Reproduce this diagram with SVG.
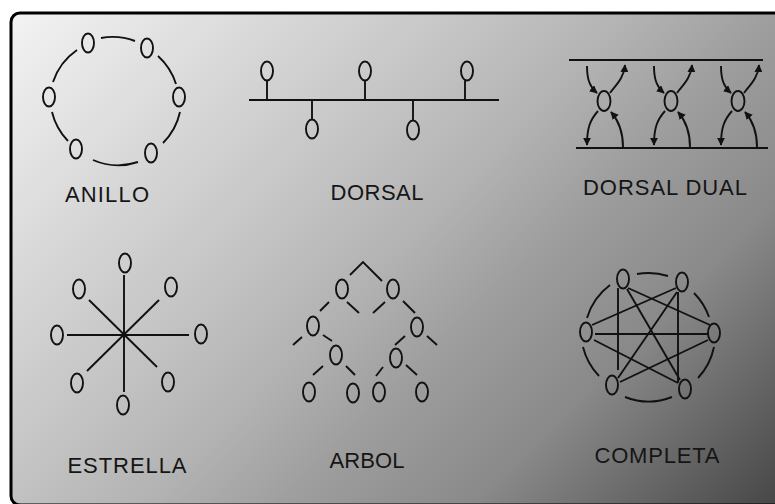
<svg xmlns="http://www.w3.org/2000/svg" width="775" height="504" viewBox="0 0 775 504">
<defs>
<linearGradient id="bg" gradientUnits="userSpaceOnUse" x1="11" y1="13" x2="639" y2="641">
<stop offset="0" stop-color="#f3f3f3"/>
<stop offset="0.34" stop-color="#c8c8c8"/>
<stop offset="0.5" stop-color="#b2b2b2"/>
<stop offset="0.61" stop-color="#9e9e9e"/>
<stop offset="0.76" stop-color="#898989"/>
<stop offset="1" stop-color="#474747"/>
</linearGradient>
<marker id="ah" viewBox="0 0 10 10" refX="9" refY="5" markerWidth="8" markerHeight="8" markerUnits="userSpaceOnUse" orient="auto">
<path d="M0,0 L10,5 L0,10 Z" fill="#111"/>
</marker>
<style>
.n{fill:none;stroke:#111;stroke-width:1.9}
.l{fill:none;stroke:#111;stroke-width:1.9}
.t{font-family:"Liberation Sans","DejaVu Sans",sans-serif;font-size:22px;fill:#151515;text-anchor:middle}
</style>
</defs>
<rect x="0" y="0" width="775" height="504" fill="#ffffff"/>
<rect id="frame" x="11" y="13" width="790" height="492" rx="9" fill="url(#bg)" stroke="#000" stroke-width="3"/>

<g id="anillo">
<g class="l">
<path d="M101,38 A63,63 0 0 1 135,41"/>
<path d="M158,56 A63,63 0 0 1 176,84"/>
<path d="M180,112 A63,63 0 0 1 163,143"/>
<path d="M138,162 A63,63 0 0 1 93,160"/>
<path d="M68,141 A63,63 0 0 1 52,112"/>
<path d="M53,82 A63,63 0 0 1 77,50"/>
</g>
<g class="n">
<ellipse cx="88" cy="43" rx="6" ry="9.5"/>
<ellipse cx="147" cy="48" rx="6" ry="9.5"/>
<ellipse cx="49" cy="97" rx="6" ry="9.5"/>
<ellipse cx="179" cy="97" rx="6" ry="9.5"/>
<ellipse cx="76" cy="149" rx="6" ry="9.5"/>
<ellipse cx="151" cy="153" rx="6" ry="9.5"/>
</g>
<text class="t" x="107" y="202" textLength="84" lengthAdjust="spacing">ANILLO</text>
</g>

<g id="dorsal">
<g class="l">
<line x1="249" y1="100" x2="499" y2="100"/>
<line x1="267" y1="81" x2="267" y2="100"/>
<line x1="365" y1="81" x2="365" y2="100"/>
<line x1="465" y1="81" x2="465" y2="100"/>
<line x1="312" y1="100" x2="312" y2="119"/>
<line x1="413" y1="100" x2="413" y2="120"/>
</g>
<g class="n">
<ellipse cx="267" cy="71" rx="6" ry="9.5"/>
<ellipse cx="365" cy="71" rx="6" ry="9.5"/>
<ellipse cx="467" cy="71" rx="6" ry="9.5"/>
<ellipse cx="312" cy="129" rx="6" ry="9.5"/>
<ellipse cx="413" cy="130" rx="6" ry="9.5"/>
</g>
<text class="t" x="377" y="200" textLength="93" lengthAdjust="spacing">DORSAL</text>
</g>

<g id="dorsal-dual">
<g class="l">
<line x1="569" y1="60" x2="763" y2="60"/>
<line x1="576" y1="148" x2="768" y2="148"/>
</g>
<g class="l" marker-end="url(#ah)">
<path d="M587,66 C587,80 590,87 597,93"/>
<path d="M610,93 C616,85 624,78 625,65"/>
<path d="M598,111 C590,120 587,128 587,145"/>
<path d="M623,147 C623,130 618,120 611,112"/>
<path d="M654,66 C654,80 657,87 664,93"/>
<path d="M677,93 C683,85 691,78 692,65"/>
<path d="M665,111 C657,120 654,128 654,145"/>
<path d="M690,147 C690,130 685,120 678,112"/>
<path d="M721,66 C721,80 724,87 731,93"/>
<path d="M744,93 C750,85 758,78 759,65"/>
<path d="M732,111 C724,120 721,128 721,145"/>
<path d="M757,147 C757,130 752,120 745,112"/>
</g>
<g class="n">
<ellipse cx="604" cy="101" rx="6.5" ry="10"/>
<ellipse cx="671" cy="101" rx="6.5" ry="10"/>
<ellipse cx="738" cy="101" rx="6.5" ry="10"/>
</g>
<text class="t" x="665" y="195" textLength="164" lengthAdjust="spacing">DORSAL DUAL</text>
</g>

<g id="estrella">
<g class="l">
<line x1="124" y1="275" x2="124" y2="392"/>
<line x1="67" y1="335" x2="189" y2="335"/>
<line x1="89" y1="300" x2="157" y2="367"/>
<line x1="159" y1="300" x2="87" y2="371"/>
</g>
<circle cx="124" cy="335" r="2.5" fill="#111"/>
<g class="n">
<ellipse cx="125" cy="263" rx="6" ry="9.5"/>
<ellipse cx="79" cy="289" rx="6" ry="9.5"/>
<ellipse cx="171" cy="287" rx="6" ry="9.5"/>
<ellipse cx="57" cy="335" rx="6" ry="9.5"/>
<ellipse cx="201" cy="334" rx="6" ry="9.5"/>
<ellipse cx="77" cy="383" rx="6" ry="9.5"/>
<ellipse cx="168" cy="382" rx="6" ry="9.5"/>
<ellipse cx="123" cy="405" rx="6" ry="9.5"/>
</g>
<text class="t" x="127" y="473" textLength="119" lengthAdjust="spacing">ESTRELLA</text>
</g>

<g id="arbol">
<g class="l">
<path d="M350,275 L363,262 L382,281"/>
<line x1="329" y1="302" x2="320" y2="311"/>
<line x1="347" y1="302" x2="359" y2="313"/>
<line x1="385" y1="302" x2="373" y2="313"/>
<line x1="403" y1="301" x2="415" y2="313"/>
<line x1="302" y1="337" x2="293" y2="345"/>
<line x1="323" y1="335" x2="332" y2="341"/>
<line x1="405" y1="336" x2="395" y2="345"/>
<line x1="427" y1="336" x2="437" y2="345"/>
<line x1="323" y1="366" x2="313" y2="375"/>
<line x1="346" y1="366" x2="355" y2="375"/>
<line x1="383" y1="367" x2="376" y2="376"/>
<line x1="406" y1="365" x2="417" y2="375"/>
</g>
<g class="n">
<ellipse cx="342" cy="289" rx="6" ry="9.5"/>
<ellipse cx="393" cy="289" rx="6" ry="9.5"/>
<ellipse cx="313" cy="326" rx="6" ry="9.5"/>
<ellipse cx="417" cy="327" rx="6" ry="9.5"/>
<ellipse cx="336" cy="355" rx="6" ry="9.5"/>
<ellipse cx="396" cy="358" rx="6" ry="9.5"/>
<ellipse cx="309" cy="392" rx="6" ry="9.5"/>
<ellipse cx="353" cy="393" rx="6" ry="9.5"/>
<ellipse cx="379" cy="392" rx="6" ry="9.5"/>
<ellipse cx="422" cy="392" rx="6" ry="9.5"/>
</g>
<text class="t" x="367" y="468" textLength="75" lengthAdjust="spacing">ARBOL</text>
</g>

<g id="completa">
<g class="l">
<path d="M637,274 A64,64 0 0 1 668,276"/>
<path d="M694,293 A64,64 0 0 1 709,317"/>
<path d="M714,347 A64,64 0 0 1 698,378"/>
<path d="M672,397 A64,64 0 0 1 625,397"/>
<path d="M599,376 A64,64 0 0 1 583,347"/>
<path d="M587,318 A64,64 0 0 1 610,285"/>
<line x1="618" y1="288" x2="618" y2="370"/>
<line x1="678" y1="292" x2="678" y2="383"/>
<line x1="595" y1="334" x2="709" y2="334"/>
<line x1="628" y1="288" x2="710" y2="325"/>
<line x1="676" y1="288" x2="592" y2="325"/>
<line x1="627" y1="289" x2="680" y2="380"/>
<line x1="677" y1="292" x2="618" y2="378"/>
<line x1="708" y1="340" x2="620" y2="382"/>
<line x1="678" y1="383" x2="594" y2="340"/>
</g>
<g class="n">
<ellipse cx="623" cy="279" rx="6" ry="9.5"/>
<ellipse cx="682" cy="282" rx="6" ry="9.5"/>
<ellipse cx="586" cy="332" rx="6" ry="9.5"/>
<ellipse cx="714" cy="333" rx="6" ry="9.5"/>
<ellipse cx="612" cy="385" rx="6" ry="9.5"/>
<ellipse cx="685" cy="389" rx="6" ry="9.5"/>
</g>
<text class="t" x="657" y="463" textLength="125" lengthAdjust="spacing">COMPLETA</text>
</g>
</svg>
